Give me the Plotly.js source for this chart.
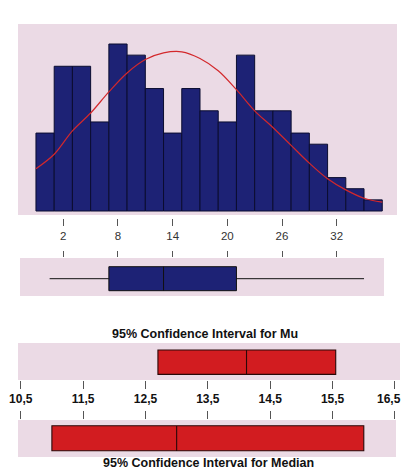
<!DOCTYPE html>
<html>
<head>
<meta charset="utf-8">
<script src="https://cdn.plot.ly/plotly-3.0.1.min.js"></script>
<style>
  html, body { margin: 0; padding: 0; background: #ffffff; }
  #chart { width: 404px; height: 471px; }
</style>
</head>
<body>
<div id="chart"></div>
<script>
// Histogram: bin centres (width 2) and counts
const binCenters = [0, 2, 4, 6, 8, 10, 12, 14, 16, 18, 20, 22, 24, 26, 28, 30, 32, 34, 36];
const binCounts  = [7, 13, 13, 8, 15, 14, 11, 7, 11, 9, 8, 14, 9, 9, 7, 6, 3, 2, 1];

// Fitted normal curve, sampled at the bin edges
const curveX = [-1, 1, 3, 5, 7, 9, 11, 13, 15, 17, 19, 21, 23, 25, 27, 29, 31, 33, 35, 37];
const curveY = [3.8, 5.1, 7.2, 8.8, 10.7, 12.4, 13.6, 14.2, 14.3, 13.7, 12.6, 10.9, 9.0, 7.5, 5.9, 4.3, 2.9, 1.9, 1.15, 0.8];

// Box plot summary: min, Q1, median, Q3, max
const boxMin = [0.5];
const boxQ1 = [7];
const boxMedian = [13];
const boxQ3 = [21];
const boxMax = [35];

// 95% confidence intervals: lower, centre, upper
const ciMu = [12.7, 14.12, 15.55];
const ciMedian = [11.0, 13.0, 16.0];

// Tick values and labels
const histTicks = [2, 8, 14, 20, 26, 32];
const ciTicks = [10.5, 11.5, 12.5, 13.5, 14.5, 15.5, 16.5];
const ciTickText = ['10,5', '11,5', '12,5', '13,5', '14,5', '15,5', '16,5'];

const W = 404, H = 471;
const px = v => v / W;
const py = v => 1 - v / H;

const FONT = '"Liberation Sans", Arial, sans-serif';
const NAVY = '#1d2275';
const RED = '#d21c20';
const PINK = '#ebdae5';

const traces = [
  {
    type: 'bar', x: binCenters, y: binCounts, width: 2,
    marker: { color: NAVY, line: { color: '#0b0d30', width: 1 } },
    xaxis: 'x', yaxis: 'y', hoverinfo: 'skip'
  },
  {
    type: 'scatter', mode: 'lines', x: curveX, y: curveY,
    line: { color: '#d3282c', width: 1.2, shape: 'spline', smoothing: 1 },
    xaxis: 'x', yaxis: 'y', hoverinfo: 'skip'
  },
  {
    type: 'box', orientation: 'h', y: [0],
    lowerfence: boxMin, q1: boxQ1, median: boxMedian, q3: boxQ3, upperfence: boxMax,
    width: 1, whiskerwidth: 0, fillcolor: NAVY,
    line: { color: '#101010', width: 1 },
    xaxis: 'x2', yaxis: 'y2', hoverinfo: 'skip'
  },
  {
    type: 'box', orientation: 'h', y: [0],
    lowerfence: [ciMu[0]], q1: [ciMu[0]], median: [ciMu[1]], q3: [ciMu[2]], upperfence: [ciMu[2]],
    width: 1, whiskerwidth: 0, fillcolor: RED,
    line: { color: '#2a0808', width: 1.1 },
    xaxis: 'x3', yaxis: 'y3', hoverinfo: 'skip'
  },
  {
    type: 'box', orientation: 'h', y: [0],
    lowerfence: [ciMedian[0]], q1: [ciMedian[0]], median: [ciMedian[1]], q3: [ciMedian[2]], upperfence: [ciMedian[2]],
    width: 1, whiskerwidth: 0, fillcolor: RED,
    line: { color: '#2a0808', width: 1.1 },
    xaxis: 'x4', yaxis: 'y4', hoverinfo: 'skip'
  }
];

// Pixel-to-unit scales of the two horizontal axes
const histRange = [2 - (63.3 - 18) / 9.113, 2 + (398 - 63.3) / 9.113];
const ciRange = [10.5 - (20.7 - 14) / 62.38, 10.5 + (400 - 20.7) / 62.38];

// The last CI label sits at the right edge, so it is right-aligned as an annotation
const lastCi = ciTicks.length - 1;
const ciAxisText = ciTickText.map((t, i) => (i === lastCi ? '' : t));

const hidden = { showgrid: false, zeroline: false, showline: false, showticklabels: false, ticks: '', fixedrange: true };
const ciLabelFont = { family: FONT, size: 12, color: '#111', weight: 'bold' };

const layout = {
  width: W, height: H, autosize: false,
  margin: { l: 0, r: 0, t: 0, b: 0, pad: 0 },
  paper_bgcolor: '#ffffff', plot_bgcolor: 'rgba(0,0,0,0)',
  showlegend: false, bargap: 0,
  font: { family: FONT, color: '#222' },
  xaxis: {
    domain: [px(18), px(398)], range: histRange, anchor: 'free', position: py(218),
    tickmode: 'array', tickvals: histTicks, ticks: 'outside', ticklen: 7, tickwidth: 1, tickcolor: '#555',
    showgrid: false, zeroline: false, showline: false,
    tickfont: { family: FONT, size: 11.5, color: '#333' }
  },
  yaxis: Object.assign({ domain: [py(215), py(25)], range: [-4 / 11.133, (211 - 25) / 11.133] }, hidden),
  xaxis2: {
    domain: [px(18), px(398)], range: histRange, anchor: 'y2', side: 'top',
    tickmode: 'array', tickvals: histTicks, ticks: 'outside', ticklen: 6, tickwidth: 1, tickcolor: '#555',
    showticklabels: false, showgrid: false, zeroline: false, showline: false
  },
  yaxis2: Object.assign({ domain: [py(296), py(258)], range: [-(296 - 278.7) / 24, (278.7 - 258) / 24] }, hidden),
  xaxis3: {
    domain: [px(14), px(400)], range: ciRange, anchor: 'y3', side: 'bottom',
    tickmode: 'array', tickvals: ciTicks, ticktext: ciAxisText, ticks: 'outside', ticklen: 8, tickwidth: 1, tickcolor: '#555',
    showgrid: false, zeroline: false, showline: false,
    tickfont: ciLabelFont
  },
  yaxis3: Object.assign({ domain: [py(380), py(343)], range: [-(380 - 362.2) / 24.3, (362.2 - 343) / 24.3] }, hidden),
  xaxis4: {
    domain: [px(14), px(400)], range: ciRange, anchor: 'y4', side: 'top',
    tickmode: 'array', tickvals: ciTicks, ticks: 'outside', ticklen: 8, tickwidth: 1, tickcolor: '#555',
    showticklabels: false, showgrid: false, zeroline: false, showline: false
  },
  yaxis4: Object.assign({ domain: [py(457), py(420)], range: [-(457 - 438.2) / 25, (438.2 - 420) / 25] }, hidden),
  shapes: [
    { type: 'rect', xref: 'paper', yref: 'paper', x0: px(18), x1: px(397), y0: py(215), y1: py(24), fillcolor: PINK, line: { width: 0 }, layer: 'below' },
    { type: 'rect', xref: 'paper', yref: 'paper', x0: px(20), x1: px(384), y0: py(296), y1: py(258), fillcolor: PINK, line: { width: 0 }, layer: 'below' },
    { type: 'rect', xref: 'paper', yref: 'paper', x0: px(18), x1: px(400), y0: py(380), y1: py(343), fillcolor: PINK, line: { width: 0 }, layer: 'below' },
    { type: 'rect', xref: 'paper', yref: 'paper', x0: px(18), x1: px(396), y0: py(457), y1: py(420), fillcolor: PINK, line: { width: 0 }, layer: 'below' }
  ],
  annotations: [
    { text: ciTickText[lastCi], xref: 'paper', yref: 'paper', x: px(403), y: py(399),
      xanchor: 'right', yanchor: 'middle', showarrow: false, font: ciLabelFont },
    { text: '95% Confidence Interval for Mu', xref: 'paper', yref: 'paper', x: px(205), y: py(334),
      xanchor: 'center', yanchor: 'middle', showarrow: false,
      font: { family: FONT, size: 12.5, color: '#111', weight: 'bold' } },
    { text: '95% Confidence Interval for Median', xref: 'paper', yref: 'paper', x: px(208), y: py(463),
      xanchor: 'center', yanchor: 'middle', showarrow: false,
      font: { family: FONT, size: 12.5, color: '#111', weight: 'bold' } }
  ]
};

Plotly.newPlot('chart', traces, layout, { staticPlot: true, displayModeBar: false });
</script>
</body>
</html>
